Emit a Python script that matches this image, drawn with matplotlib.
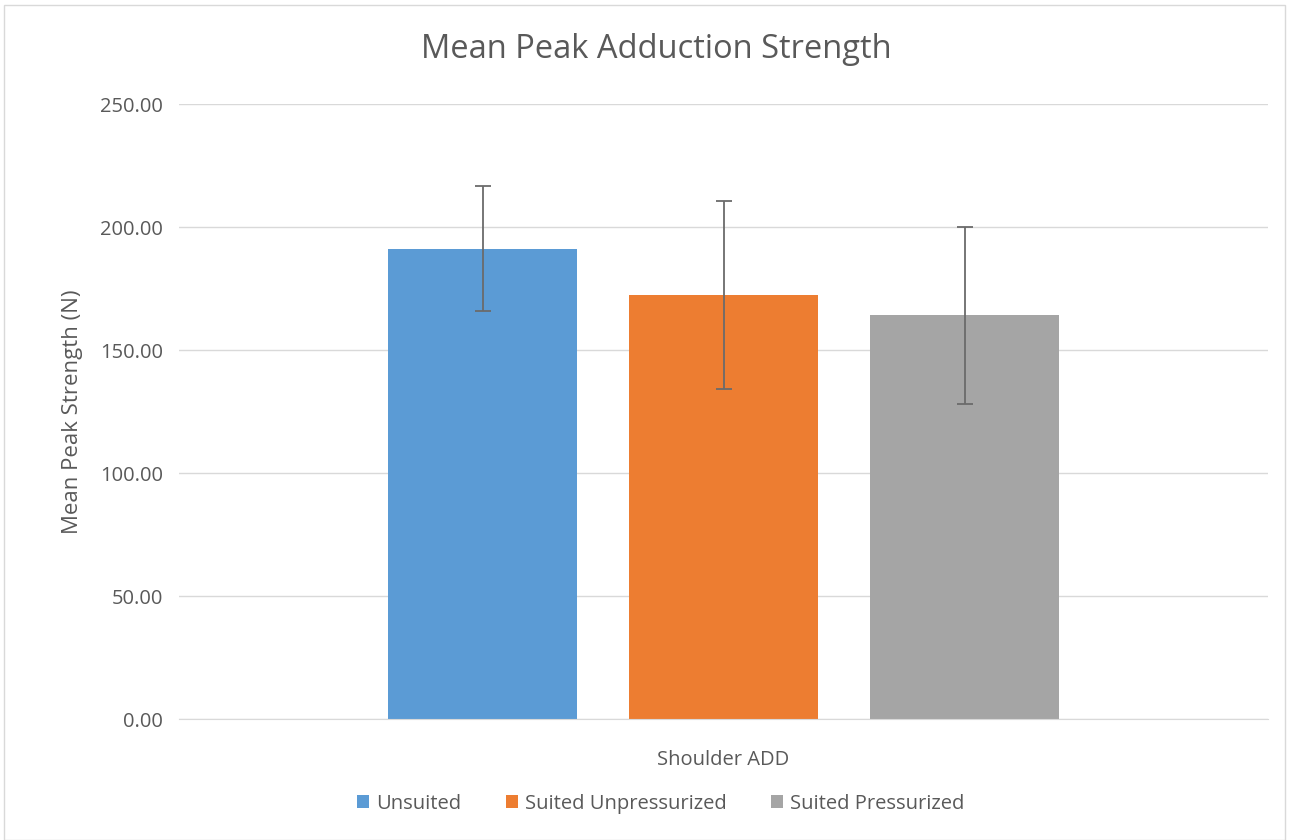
import matplotlib
matplotlib.use("Agg")
import matplotlib.pyplot as plt
from matplotlib.patches import Rectangle

# data
category = "Shoulder ADD"
series = ["Unsuited", "Suited Unpressurized", "Suited Pressurized"]
means = [191.2, 172.4, 164.1]
errors = [25.4, 38.3, 35.9]
colors = ["#5B9BD5", "#ED7D31", "#A5A5A5"]
yticks = [0, 50, 100, 150, 200, 250]

plt.rcParams['font.family'] = ['Open Sans', 'DejaVu Sans']
txt = "#595959"

fig = plt.figure(figsize=(12.91, 8.40), dpi=100)
ax = fig.add_axes([0.139, 0.144, 0.843, 0.732])

width = 0.174
step = 0.2215
for i, (name, m, e, c) in enumerate(zip(series, means, errors, colors)):
    x = (i - 1) * step
    ax.bar(x, m, width, color=c, label=name, zorder=2)
    ax.errorbar(x, m, yerr=e, fmt='none', ecolor="#6b6b6b", elinewidth=1.3,
                capsize=6, capthick=1.3, zorder=3)

ax.set_xlim(-0.5, 0.5)
ax.set_ylim(0, 250)
ax.set_yticks(yticks)
ax.set_yticklabels([f"{v:.2f}" for v in yticks], fontsize=14.5, color=txt)
ax.set_xticks([0])
ax.set_xticklabels([category], fontsize=14.5, color=txt)
ax.tick_params(axis='y', length=0, pad=12)
ax.tick_params(axis='x', length=0, pad=22)
ax.grid(axis='y', color="#d9d9d9", linewidth=1, zorder=0)
for s in ["top", "right", "left"]:
    ax.spines[s].set_visible(False)
ax.spines["bottom"].set_color("#d9d9d9")

ax.set_ylabel("Mean Peak Strength (N)", fontsize=16, color=txt, labelpad=12)
fig.text(0.508, 0.941, "Mean Peak Adduction Strength", ha='center', va='center',
         fontsize=23.5, color=txt)

leg = fig.legend(loc='center', bbox_to_anchor=(0.512, 0.043), ncol=3, frameon=False,
                 fontsize=14.5, handlelength=0.6, handleheight=0.6,
                 handletextpad=0.35, columnspacing=2.2)
for t in leg.get_texts():
    t.set_color(txt)

fig.patches.append(Rectangle((0.003, 0.0), 0.992, 0.994, transform=fig.transFigure,
                             fill=False, edgecolor="#d9d9d9", linewidth=1))

fig.savefig("out.png", dpi=100)
